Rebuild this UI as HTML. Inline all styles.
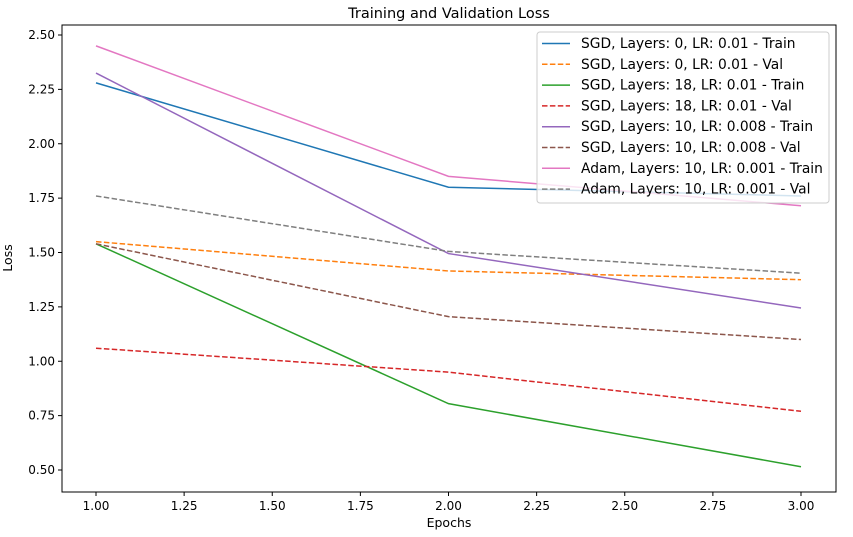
<!DOCTYPE html>
<html><head><meta charset="utf-8"><style>
body{margin:0;background:#fff}
svg text{font-family:"DejaVu Sans","Liberation Sans",sans-serif;fill:#000}
</style></head><body>
<svg id="c" width="853" height="532"></svg>
<script>
const epochs=[1,2,3];
const names=["SGD, Layers: 0, LR: 0.01 - Train","SGD, Layers: 0, LR: 0.01 - Val","SGD, Layers: 18, LR: 0.01 - Train","SGD, Layers: 18, LR: 0.01 - Val","SGD, Layers: 10, LR: 0.008 - Train","SGD, Layers: 10, LR: 0.008 - Val","Adam, Layers: 10, LR: 0.001 - Train","Adam, Layers: 10, LR: 0.001 - Val"];
const sgd0Train=[2.28,1.80,1.76];
const sgd0Val=[1.55,1.415,1.375];
const sgd18Train=[1.54,0.805,0.515];
const sgd18Val=[1.06,0.95,0.77];
const sgd10Train=[2.325,1.495,1.245];
const sgd10Val=[1.54,1.205,1.10];
const adamTrain=[2.45,1.85,1.715];
const adamVal=[1.76,1.505,1.405];
const xTicks=[1.00,1.25,1.50,1.75,2.00,2.25,2.50,2.75,3.00];
const yTicks=[0.50,0.75,1.00,1.25,1.50,1.75,2.00,2.25,2.50];
const series=[sgd0Train,sgd0Val,sgd18Train,sgd18Val,sgd10Train,sgd10Val,adamTrain,adamVal];
const colors=["#1f77b4","#ff7f0e","#2ca02c","#d62728","#9467bd","#8c564b","#e377c2","#7f7f7f"];
const svg=document.getElementById('c');const NS="http://www.w3.org/2000/svg";
function mk(t,a,p){const e=document.createElementNS(NS,t);for(const k in a)e.setAttribute(k,a[k]);(p||svg).appendChild(e);return e;}
const X=v=>96+(v-1)*352.5, Y=v=>35+(2.5-v)*217.5;
const L=62,R=836,T=25,B=492;
xTicks.forEach(v=>{const g=mk('g',{});


mk('line',{x1:X(v),x2:X(v),y1:B,y2:B+4,stroke:'#000'},g);
const t=mk('text',{x:X(v),y:B+18,'font-size':12,'text-anchor':'middle'},g);t.textContent=v.toFixed(2);});
yTicks.forEach(v=>{const g=mk('g',{});


mk('line',{x1:L-4,x2:L,y1:Y(v),y2:Y(v),stroke:'#000'},g);
const t=mk('text',{x:L-7,y:Y(v)+4,'font-size':12,'text-anchor':'end'},g);t.textContent=v.toFixed(2);});
series.forEach((s,i)=>{const p=mk('polyline',{points:s.map((v,j)=>X(epochs[j])+','+Y(v)).join(' '),fill:'none',stroke:colors[i],'stroke-width':1.5});
if(i%2)p.setAttribute('stroke-dasharray','5.5,2.4');

});
const fr=mk('rect',{x:L,y:T,width:R-L,height:B-T,fill:'none',stroke:'#000','stroke-width':1});


let t=mk('text',{x:449,y:18,'font-size':14.5,'text-anchor':'middle'});t.textContent='Training and Validation Loss';

t=mk('text',{x:449,y:527,'font-size':12.5,'text-anchor':'middle'});t.textContent='Epochs';

t=mk('text',{x:0,y:0,'font-size':12.5,'text-anchor':'middle',transform:'translate(12,258) rotate(-90)'});t.textContent='Loss';

const lg=mk('g',{});

mk('rect',{x:537,y:32,width:292,height:171,rx:3,fill:'#fff','fill-opacity':0.8,stroke:'#ccc'},lg);
names.forEach((n,i)=>{const y=43.5+i*20.8;const g=mk('g',{},lg);


const l=mk('line',{x1:542,x2:570,y1:y,y2:y,stroke:colors[i],'stroke-width':1.5},g);
if(i%2)l.setAttribute('stroke-dasharray','5.5,2.4');
const tt=mk('text',{x:581,y:y+4.5,'font-size':13.8},g);tt.textContent=n;});
</script></body></html>
